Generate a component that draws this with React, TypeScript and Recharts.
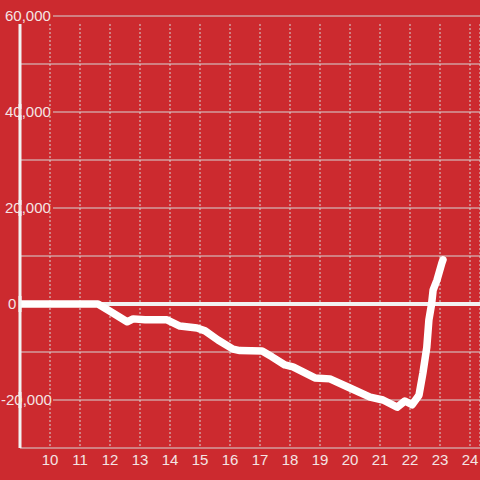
import { LineChart, Line, XAxis, YAxis, CartesianGrid, ReferenceLine } from 'recharts'

const xValues = [
  9, 11.6, 12.0, 12.57, 12.77, 13.17, 13.9, 14.33, 14.9, 15.17, 15.6, 16.1, 16.33, 17.07, 17.4,
  17.83, 18.1, 18.83, 19.33, 20, 20.67, 21.1, 21.57, 21.83, 22.07, 22.3, 22.43, 22.56, 22.63,
  22.72, 22.77, 22.9, 23.06, 23.1,
]
const yValues = [
  0, 0, -1500, -3700, -3100, -3300, -3300, -4600, -5000, -5600, -7500, -9400, -9700, -9800,
  -11000, -12700, -13100, -15400, -15600, -17500, -19400, -20000, -21500, -20200, -21000, -19000,
  -14400, -9000, -3300, 0, 2900, 5000, 8500, 9200,
]
const xTicks = [10, 11, 12, 13, 14, 15, 16, 17, 18, 19, 20, 21, 22, 23, 24]
const yTicks = [-30000, -20000, -10000, 0, 10000, 20000, 30000, 40000, 50000, 60000]
const yLabelled = [-20000, 0, 20000, 40000, 60000]

const data = xValues.map((x, i) => ({ x, value: yValues[i] }))

const BG = '#cc2a2f'
const TEXT = '#f4e4e4'
const GRID = '#d6d6d6'
const AXIS = '#f2f2f2'
const FONT = '"Liberation Sans", Arial, sans-serif'

function YTick(props: any) {
  const { y, payload } = props
  const v = payload.value as number
  if (!yLabelled.includes(v)) return null
  const label = v.toLocaleString('en-US')
  return (
    <g>
      {v !== 0 && <rect x={0} y={y - 3} width={53} height={6} fill={BG} />}
      {/* keep the axis line showing through the label box (it starts below the top label) */}
      {v !== 60000 && <line x1={20} x2={20} y1={y - 8} y2={y + 8} stroke={AXIS} strokeWidth={3} />}
      <text
        x={v < 0 ? 1 : v === 0 ? 8 : 5}
        y={y}
        dy={5}
        fill={TEXT}
        fontSize={15}
        fontFamily={FONT}
        textAnchor="start"
      >
        {label}
      </text>
    </g>
  )
}

export default function App() {
  return (
    <div style={{ position: 'absolute', left: 0, top: 0, width: 480, height: 480, background: BG }}>
      <LineChart width={480} height={480} data={data} margin={{ top: 16, right: 0, bottom: 0, left: 0 }}>
        <CartesianGrid horizontal vertical={false} stroke={GRID} strokeWidth={1} />
        <CartesianGrid
          horizontal={false}
          vertical
          y={24}
          height={422}
          stroke={GRID}
          strokeDasharray="2 2"
        />
        <XAxis
          dataKey="x"
          type="number"
          domain={[9, 24.3333]}
          ticks={xTicks}
          allowDataOverflow
          axisLine={false}
          tickLine={false}
          tickSize={4}
          height={32}
          tick={{ fill: TEXT, fontSize: 15, fontFamily: FONT }}
          interval={0}
        />
        <YAxis
          type="number"
          domain={[-30000, 60000]}
          ticks={yTicks}
          allowDataOverflow
          axisLine={false}
          tickLine={false}
          width={20}
          interval={0}
          tick={<YTick />}
        />
        <ReferenceLine y={0} stroke={AXIS} strokeWidth={4} />
        <ReferenceLine
          segment={[
            { x: 9, y: -30000 },
            { x: 9, y: 58333 },
          ]}
          stroke={AXIS}
          strokeWidth={3}
        />
        <Line
          type="linear"
          dataKey="value"
          stroke="#ffffff"
          strokeWidth={7.5}
          strokeLinejoin="round"
          strokeLinecap="round"
          dot={false}
          activeDot={false}
          isAnimationActive={false}
        />
      </LineChart>
    </div>
  )
}
